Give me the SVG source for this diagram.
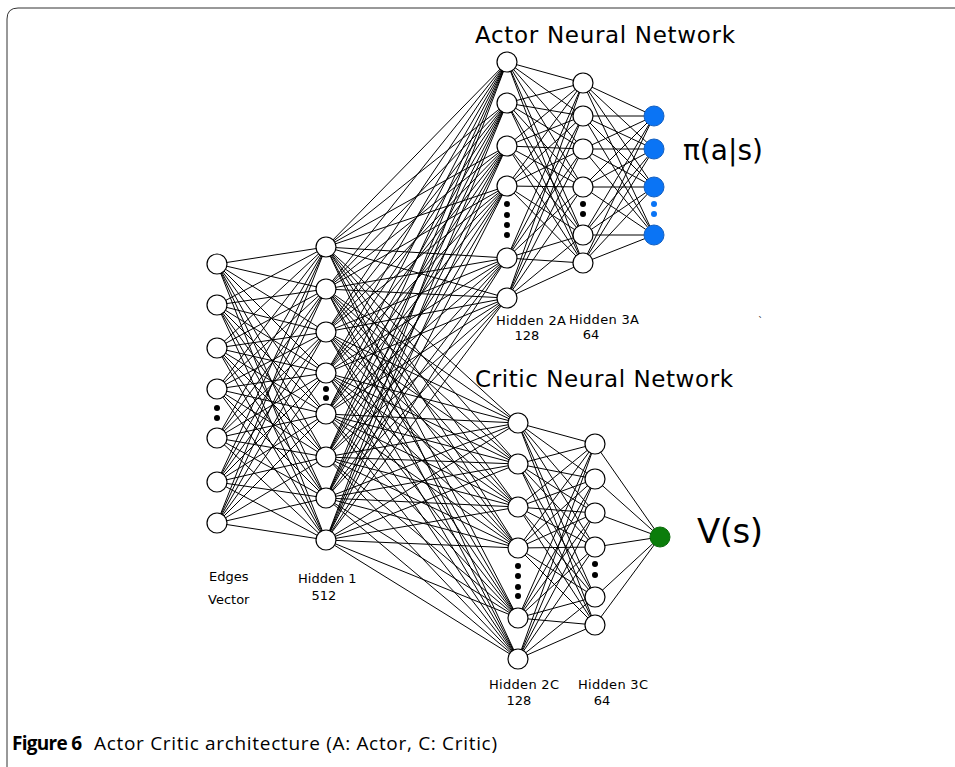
<svg xmlns="http://www.w3.org/2000/svg" width="955" height="767" viewBox="0 0 955 767">
<style>
.n{fill:#fff;stroke:#000;stroke-width:1.2}
.c path{fill:none;stroke:#000;stroke-width:1}
.d{fill:#000}
.lb{font-family:"DejaVu Sans",Verdana,sans-serif;font-size:13px;fill:#000}
.tt{font-family:"DejaVu Sans",Verdana,sans-serif;font-size:23px;fill:#000}
.cap{font-family:"Open Sans","Noto Sans",sans-serif;font-size:19px;fill:#000}
</style>
<rect width="955" height="767" fill="#fff"/>
<path d="M7,767 L7,19 Q7,8 18,8 L955,8" fill="none" stroke="#333" stroke-width="1"/>
<g class="c" id="connectors">
<path d="M217,264L326,247M217,264L326,289M217,264L326,332M217,264L326,373M217,264L326,414M217,264L326,457M217,264L326,498M217,264L326,540"/>
<path d="M217,305L326,247M217,305L326,289M217,305L326,332M217,305L326,373M217,305L326,414M217,305L326,457M217,305L326,498M217,305L326,540"/>
<path d="M217,348L326,247M217,348L326,289M217,348L326,332M217,348L326,373M217,348L326,414M217,348L326,457M217,348L326,498M217,348L326,540"/>
<path d="M217,389L326,247M217,389L326,289M217,389L326,332M217,389L326,373M217,389L326,414M217,389L326,457M217,389L326,498M217,389L326,540"/>
<path d="M217,438L326,247M217,438L326,289M217,438L326,332M217,438L326,373M217,438L326,414M217,438L326,457M217,438L326,498M217,438L326,540"/>
<path d="M217,482L326,247M217,482L326,289M217,482L326,332M217,482L326,373M217,482L326,414M217,482L326,457M217,482L326,498M217,482L326,540"/>
<path d="M217,523L326,247M217,523L326,289M217,523L326,332M217,523L326,373M217,523L326,414M217,523L326,457M217,523L326,498M217,523L326,540"/>
<path d="M326,247L507,62M326,247L507,103M326,247L507,146M326,247L507,186M326,247L507,258M326,247L507,298"/>
<path d="M326,289L507,62M326,289L507,103M326,289L507,146M326,289L507,186M326,289L507,258M326,289L507,298"/>
<path d="M326,332L507,62M326,332L507,103M326,332L507,146M326,332L507,186M326,332L507,258M326,332L507,298"/>
<path d="M326,373L507,62M326,373L507,103M326,373L507,146M326,373L507,186M326,373L507,258M326,373L507,298"/>
<path d="M326,414L507,62M326,414L507,103M326,414L507,146M326,414L507,186M326,414L507,258M326,414L507,298"/>
<path d="M326,457L507,62M326,457L507,103M326,457L507,146M326,457L507,186M326,457L507,258M326,457L507,298"/>
<path d="M326,498L507,62M326,498L507,103M326,498L507,146M326,498L507,186M326,498L507,258M326,498L507,298"/>
<path d="M326,540L507,62M326,540L507,103M326,540L507,146M326,540L507,186M326,540L507,258M326,540L507,298"/>
<path d="M326,247L518,423M326,247L518,464M326,247L518,507M326,247L518,548M326,247L518,618M326,247L518,659"/>
<path d="M326,289L518,423M326,289L518,464M326,289L518,507M326,289L518,548M326,289L518,618M326,289L518,659"/>
<path d="M326,332L518,423M326,332L518,464M326,332L518,507M326,332L518,548M326,332L518,618M326,332L518,659"/>
<path d="M326,373L518,423M326,373L518,464M326,373L518,507M326,373L518,548M326,373L518,618M326,373L518,659"/>
<path d="M326,414L518,423M326,414L518,464M326,414L518,507M326,414L518,548M326,414L518,618M326,414L518,659"/>
<path d="M326,457L518,423M326,457L518,464M326,457L518,507M326,457L518,548M326,457L518,618M326,457L518,659"/>
<path d="M326,498L518,423M326,498L518,464M326,498L518,507M326,498L518,548M326,498L518,618M326,498L518,659"/>
<path d="M326,540L518,423M326,540L518,464M326,540L518,507M326,540L518,548M326,540L518,618M326,540L518,659"/>
<path d="M507,62L583,83M507,62L583,116M507,62L583,149M507,62L583,187M507,62L583,235M507,62L583,263"/>
<path d="M507,103L583,83M507,103L583,116M507,103L583,149M507,103L583,187M507,103L583,235M507,103L583,263"/>
<path d="M507,146L583,83M507,146L583,116M507,146L583,149M507,146L583,187M507,146L583,235M507,146L583,263"/>
<path d="M507,186L583,83M507,186L583,116M507,186L583,149M507,186L583,187M507,186L583,235M507,186L583,263"/>
<path d="M507,258L583,83M507,258L583,116M507,258L583,149M507,258L583,187M507,258L583,235M507,258L583,263"/>
<path d="M507,298L583,83M507,298L583,116M507,298L583,149M507,298L583,187M507,298L583,235M507,298L583,263"/>
<path d="M583,83L654,116M583,83L654,149M583,83L654,187M583,83L654,235"/>
<path d="M583,116L654,116M583,116L654,149M583,116L654,187M583,116L654,235"/>
<path d="M583,149L654,116M583,149L654,149M583,149L654,187M583,149L654,235"/>
<path d="M583,187L654,116M583,187L654,149M583,187L654,187M583,187L654,235"/>
<path d="M583,235L654,116M583,235L654,149M583,235L654,187M583,235L654,235"/>
<path d="M583,263L654,116M583,263L654,149M583,263L654,187M583,263L654,235"/>
<path d="M518,423L595,444M518,423L595,479M518,423L595,513M518,423L595,547M518,423L595,597M518,423L595,625"/>
<path d="M518,464L595,444M518,464L595,479M518,464L595,513M518,464L595,547M518,464L595,597M518,464L595,625"/>
<path d="M518,507L595,444M518,507L595,479M518,507L595,513M518,507L595,547M518,507L595,597M518,507L595,625"/>
<path d="M518,548L595,444M518,548L595,479M518,548L595,513M518,548L595,547M518,548L595,597M518,548L595,625"/>
<path d="M518,618L595,444M518,618L595,479M518,618L595,513M518,618L595,547M518,618L595,597M518,618L595,625"/>
<path d="M518,659L595,444M518,659L595,479M518,659L595,513M518,659L595,547M518,659L595,597M518,659L595,625"/>
<path d="M595,444L660,537M595,479L660,537M595,513L660,537M595,547L660,537M595,597L660,537M595,625L660,537"/>
</g>
<g id="input-layer">
<circle class="n" cx="217" cy="264" r="10"/><circle class="n" cx="217" cy="305" r="10"/><circle class="n" cx="217" cy="348" r="10"/><circle class="n" cx="217" cy="389" r="10"/><circle class="n" cx="217" cy="438" r="10"/><circle class="n" cx="217" cy="482" r="10"/><circle class="n" cx="217" cy="523" r="10"/>
<circle class="d" cx="217" cy="408" r="3"/><circle class="d" cx="217" cy="418" r="3"/>
</g>
<g id="hidden-1">
<circle class="n" cx="326" cy="247" r="10"/><circle class="n" cx="326" cy="289" r="10"/><circle class="n" cx="326" cy="332" r="10"/><circle class="n" cx="326" cy="373" r="10"/><circle class="n" cx="326" cy="414" r="10"/><circle class="n" cx="326" cy="457" r="10"/><circle class="n" cx="326" cy="498" r="10"/><circle class="n" cx="326" cy="540" r="10"/>
<circle class="d" cx="326" cy="389" r="3"/><circle class="d" cx="326" cy="398" r="3"/>
</g>
<g id="hidden-2a">
<circle class="n" cx="507" cy="62" r="10"/><circle class="n" cx="507" cy="103" r="10"/><circle class="n" cx="507" cy="146" r="10"/><circle class="n" cx="507" cy="186" r="10"/><circle class="n" cx="507" cy="258" r="10"/><circle class="n" cx="507" cy="298" r="10"/>
<circle class="d" cx="507" cy="204" r="3"/><circle class="d" cx="507" cy="215" r="3"/><circle class="d" cx="507" cy="225" r="3"/><circle class="d" cx="507" cy="235" r="3"/>
</g>
<g id="hidden-3a">
<circle class="n" cx="583" cy="83" r="10"/><circle class="n" cx="583" cy="116" r="10"/><circle class="n" cx="583" cy="149" r="10"/><circle class="n" cx="583" cy="187" r="10"/><circle class="n" cx="583" cy="235" r="10"/><circle class="n" cx="583" cy="263" r="10"/>
<circle class="d" cx="583" cy="204" r="3"/><circle class="d" cx="583" cy="214" r="3"/>
</g>
<g id="actor-output">
<circle cx="654" cy="116" r="10" fill="#0a74f5" stroke="#1560c0" stroke-width="1"/><circle cx="654" cy="149" r="10" fill="#0a74f5" stroke="#1560c0" stroke-width="1"/><circle cx="654" cy="187" r="10" fill="#0a74f5" stroke="#1560c0" stroke-width="1"/><circle cx="654" cy="235" r="10" fill="#0a74f5" stroke="#1560c0" stroke-width="1"/>
<circle cx="654" cy="204" r="3" fill="#0a74f5"/><circle cx="654" cy="214" r="3" fill="#0a74f5"/>
</g>
<g id="hidden-2c">
<circle class="n" cx="518" cy="423" r="10"/><circle class="n" cx="518" cy="464" r="10"/><circle class="n" cx="518" cy="507" r="10"/><circle class="n" cx="518" cy="548" r="10"/><circle class="n" cx="518" cy="618" r="10"/><circle class="n" cx="518" cy="659" r="10"/>
<circle class="d" cx="518" cy="566" r="3"/><circle class="d" cx="518" cy="576" r="3"/><circle class="d" cx="518" cy="587" r="3"/><circle class="d" cx="518" cy="596" r="3"/>
</g>
<g id="hidden-3c">
<circle class="n" cx="595" cy="444" r="10"/><circle class="n" cx="595" cy="479" r="10"/><circle class="n" cx="595" cy="513" r="10"/><circle class="n" cx="595" cy="547" r="10"/><circle class="n" cx="595" cy="597" r="10"/><circle class="n" cx="595" cy="625" r="10"/>
<circle class="d" cx="595" cy="564" r="3"/><circle class="d" cx="595" cy="575" r="3"/>
</g>
<g id="critic-output">
<circle cx="660" cy="537" r="10" fill="#0b7d0b" stroke="#0a6a0a" stroke-width="1"/>
</g>
<g id="labels">
<text class="tt" x="475" y="43" textLength="260">Actor Neural Network</text>
<text class="tt" x="475" y="387" textLength="258">Critic Neural Network</text>
<text x="683" y="160" font-family="'DejaVu Sans',sans-serif" font-size="28" textLength="80">π(a|s)</text>
<text x="697" y="543" font-family="'DejaVu Sans',sans-serif" font-size="34" textLength="66">V(s)</text>
<text class="lb" x="496" y="325" textLength="70">Hidden 2A</text>
<text class="lb" x="527" y="340" text-anchor="middle">128</text>
<text class="lb" x="569" y="324" textLength="70">Hidden 3A</text>
<text class="lb" x="591" y="339" text-anchor="middle">64</text>
<text class="lb" x="209" y="581">Edges</text>
<text class="lb" x="208" y="604">Vector</text>
<text class="lb" x="298" y="583">Hidden 1</text>
<text class="lb" x="324" y="600" text-anchor="middle">512</text>
<text class="lb" x="489" y="689" textLength="70">Hidden 2C</text>
<text class="lb" x="519" y="705" text-anchor="middle">128</text>
<text class="lb" x="578" y="689" textLength="70">Hidden 3C</text>
<text class="lb" x="602" y="705" text-anchor="middle">64</text>
<text x="758" y="325" font-family="'DejaVu Sans',sans-serif" font-size="10" fill="#333">`</text>
<text class="cap" y="750"><tspan x="12" font-weight="bold" textLength="70">Figure 6</tspan><tspan x="94" textLength="403">Actor Critic architecture (A: Actor, C: Critic)</tspan></text>
</g>
</svg>
